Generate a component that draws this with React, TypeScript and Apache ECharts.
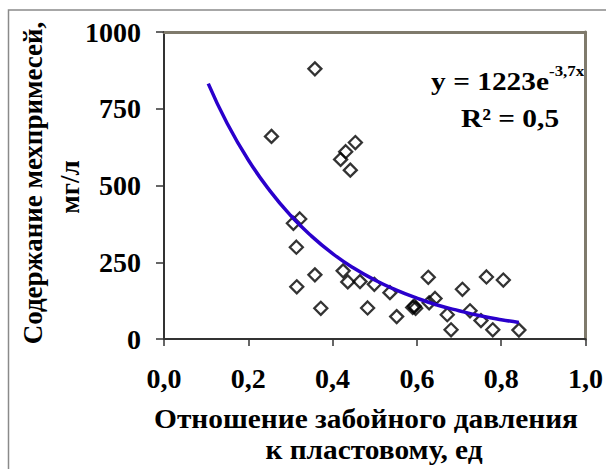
import React, { useEffect, useRef } from "react";
import * as echarts from "echarts";

const pointsX = [0.255, 0.358, 0.454, 0.431, 0.419, 0.442, 0.322, 0.307, 0.314, 0.358, 0.315, 0.372, 0.425, 0.436, 0.465, 0.499, 0.483, 0.536, 0.552, 0.594, 0.597, 0.590, 0.627, 0.629, 0.643, 0.672, 0.681, 0.708, 0.726, 0.752, 0.765, 0.780, 0.805, 0.842];
const pointsY = [660, 880, 640, 610, 585, 550, 391, 377, 299, 209, 170, 100, 222, 186, 187, 178, 101, 151, 73, 107, 100, 103, 201, 118, 132, 79, 30, 162, 92, 60, 202, 30, 192, 29];

const trendX = [0.105, 0.15, 0.2, 0.25, 0.3, 0.35, 0.4, 0.45, 0.5, 0.55, 0.6, 0.65, 0.7, 0.75, 0.8, 0.842];
const trendY = [832, 702, 583, 485, 403, 335, 278, 231, 192, 160, 133, 110, 92, 76, 63, 54];

const yTicks = [0, 250, 500, 750, 1000];
const xTicks = [0, 0.2, 0.4, 0.6, 0.8, 1.0];

const yTitle1 = "Содержание мехпримесей,";
const yTitle2 = "мг/л";
const xTitle1 = "Отношение забойного давления";
const xTitle2 = "к пластовому, ед";
const eqMain = "y = 1223e";
const eqSup = "-3,7x";
const r2Text = "R² = 0,5";

const FONT = "Times New Roman, Liberation Serif, DejaVu Serif, serif";

export default function App() {
  const ref = useRef<HTMLDivElement>(null);
  useEffect(() => {
    const chart = echarts.init(ref.current!, null, { renderer: "svg" });
    const textStyle = (t: string, size: number, extra: any = {}) => ({
      text: t,
      fill: "#000",
      fontFamily: FONT,
      fontWeight: "bold",
      fontSize: size,
      ...extra,
    });
    chart.setOption({
      animation: false,
      backgroundColor: "#fff",
      textStyle: { fontFamily: FONT },
      grid: { left: 164, right: 18, top: 32, bottom: 130 },
      xAxis: [
        {
          type: "value",
          min: xTicks[0],
          max: xTicks[xTicks.length - 1],
          interval: 0.2,
          axisLine: { show: true, onZero: false, lineStyle: { color: "#333", width: 2 } },
          axisTick: { show: true, length: 7, lineStyle: { color: "#333", width: 1.5 } },
          axisLabel: {
            margin: 25,
            color: "#000",
            fontFamily: FONT,
            fontWeight: "bold",
            fontSize: 28,
            formatter: (v: number) => v.toFixed(1).replace(".", ","),
          },
          splitLine: { show: false },
        },
        {
          type: "value",
          position: "top",
          min: 0,
          max: 1,
          axisLine: { show: true, onZero: false, lineStyle: { color: "#7f7a6c", width: 3 } },
          axisTick: { show: false },
          axisLabel: { show: false },
          splitLine: { show: false },
        },
      ],
      yAxis: [
        {
          type: "value",
          min: yTicks[0],
          max: yTicks[yTicks.length - 1],
          interval: 250,
          axisLine: { show: true, onZero: false, lineStyle: { color: "#333", width: 2 } },
          axisTick: { show: true, length: 8, lineStyle: { color: "#333", width: 1.5 } },
          axisLabel: {
            margin: 23,
            color: "#000",
            fontFamily: FONT,
            fontWeight: "bold",
            fontSize: 28,
            formatter: (v: number) => String(v),
          },
          splitLine: { show: false },
        },
        {
          type: "value",
          position: "right",
          min: 0,
          max: 1000,
          axisLine: { show: true, onZero: false, lineStyle: { color: "#7f7a6c", width: 3 } },
          axisTick: { show: false },
          axisLabel: { show: false },
          splitLine: { show: false },
        },
      ],
      series: [
        {
          type: "scatter",
          data: pointsX.map((x, i) => [x, pointsY[i]]),
          symbol: "diamond",
          symbolSize: 13,
          itemStyle: { color: "rgba(255,255,255,0)", borderColor: "#000", borderWidth: 2.3 },
          z: 2,
        },
        {
          type: "line",
          data: trendX.map((x, i) => [x, trendY[i]]),
          smooth: true,
          showSymbol: false,
          lineStyle: { color: "#2a00cc", width: 3.5 },
          z: 3,
        },
      ],
      graphic: [
        {
          type: "rect",
          shape: { x: 8.5, y: 10, width: 620, height: 500 },
          style: { fill: "none", stroke: "#8a8a8a", lineWidth: 1.5 },
          silent: true,
        },
        {
          type: "text",
          x: 33,
          y: 183,
          rotation: Math.PI / 2,
          style: textStyle(yTitle1, 27, { align: "center", verticalAlign: "middle" }),
        },
        {
          type: "text",
          x: 70,
          y: 187,
          rotation: Math.PI / 2,
          style: textStyle(yTitle2, 27, { align: "center", verticalAlign: "middle" }),
        },
        {
          type: "text",
          x: 366,
          y: 418,
          scaleX: 1.05,
          style: textStyle(xTitle1, 28, { align: "center", verticalAlign: "middle" }),
        },
        {
          type: "text",
          x: 374,
          y: 449,
          scaleX: 1.05,
          style: textStyle(xTitle2, 28, { align: "center", verticalAlign: "middle" }),
        },
        {
          type: "text",
          x: 549,
          y: 81,
          scaleX: 1.13,
          style: textStyle(eqMain, 26, { align: "right", verticalAlign: "middle" }),
        },
        {
          type: "text",
          x: 549,
          y: 71,
          scaleX: 1.13,
          style: textStyle(eqSup, 15, { align: "left", verticalAlign: "middle" }),
        },
        {
          type: "text",
          x: 510,
          y: 118,
          scaleX: 1.13,
          style: textStyle(r2Text, 26, { align: "center", verticalAlign: "middle" }),
        },
      ],
    });
    return () => chart.dispose();
  }, []);
  return <div ref={ref} style={{ width: 606, height: 469, position: "absolute", left: 0, top: 0 }} />;
}
